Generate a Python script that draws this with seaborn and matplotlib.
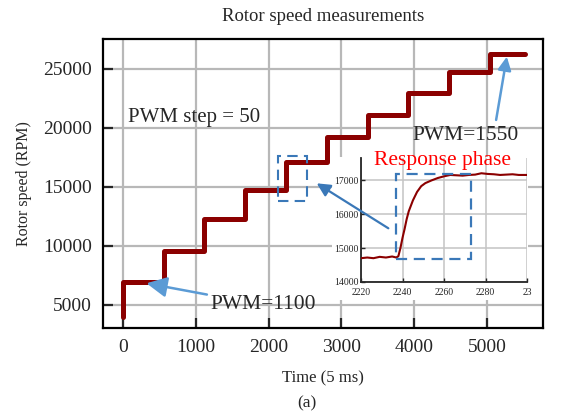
import matplotlib
matplotlib.use("Agg")
import matplotlib.pyplot as plt
from matplotlib.patches import Rectangle
import seaborn as sns
import pandas as pd

# step changes of the PWM command (time index, 5 ms per sample)
step_times = [0, 0, 560, 1118, 1677, 2237, 2796, 3360, 3915, 4475, 5040, 5520]
step_levels = [4000, 6920, 9600, 12250, 14780, 17150, 19270, 21100, 22940, 24760, 26280, 26280]

# zoomed view of the 5th step (response phase)
zoom_t = [2220, 2223, 2226, 2229, 2232, 2235, 2237, 2238, 2239, 2240, 2241, 2242, 2243,
          2245, 2247, 2249, 2251, 2254, 2257, 2260, 2263, 2266, 2269, 2272, 2275,
          2278, 2281, 2284, 2287, 2290, 2293, 2296, 2300]
zoom_rpm = [14700, 14720, 14700, 14740, 14720, 14750, 14720, 14760, 15000, 15300, 15560, 15850, 16080,
            16400, 16650, 16820, 16910, 16990, 17060, 17110, 17150, 17140, 17130, 17150, 17160,
            17200, 17180, 17170, 17150, 17160, 17170, 17150, 17150]

main_df = pd.DataFrame({"t": step_times, "rpm": step_levels})
zoom_df = pd.DataFrame({"t": zoom_t, "rpm": zoom_rpm})

sns.set_style("ticks")
plt.rcParams["font.family"] = ["Liberation Serif", "DejaVu Serif"]

red = "#8b0000"
blue = "#3a78b8"
light_blue = "#5b9bd5"
grid_col = "#b8b8b8"

fig = plt.figure(figsize=(5.61, 4.18), dpi=100)
ax = fig.add_axes([0.1836, 0.2153, 0.7838, 0.6914])

sns.lineplot(data=main_df, x="t", y="rpm", ax=ax, color=red, linewidth=3.6,
             drawstyle="steps-post", estimator=None, sort=False, zorder=3)

ax.set_xlim(-270, 5760)
ax.set_ylim(3050, 27540)
ax.set_xticks([0, 1000, 2000, 3000, 4000, 5000])
ax.set_yticks([5000, 10000, 15000, 20000, 25000])
ax.grid(True, color=grid_col, linewidth=1.6)
ax.set_axisbelow(True)
for s in ax.spines.values():
    s.set_linewidth(1.6)
    s.set_color("black")
ax.tick_params(direction="in", length=7, width=1.6, labelsize=14, pad=8)
ax.set_xlabel("Time (5 ms)", fontsize=12, labelpad=10)
ax.set_ylabel("Rotor speed (RPM)", fontsize=11.5, labelpad=8)
ax.set_title("Rotor speed measurements", fontsize=13.5, pad=13)

ax.text(70, 20850, "PWM step = 50", fontsize=15, ha="left", va="center")
ax.annotate("PWM=1100", xy=(326, 6840), xytext=(1200, 5000), fontsize=15.5,
            ha="left", va="center",
            arrowprops=dict(arrowstyle="-|>,head_length=0.8,head_width=0.4",
                            color=light_blue, lw=1.8, shrinkA=0, shrinkB=0))
ax.annotate("", xy=(5268, 26040), xytext=(5121, 20680),
            arrowprops=dict(arrowstyle="-|>,head_length=0.8,head_width=0.4",
                            color=light_blue, lw=1.8, shrinkA=0, shrinkB=0))
ax.text(3980, 19400, "PWM=1550", fontsize=15.5, ha="left", va="center")

ax.add_patch(Rectangle((2134, 13810), 390, 3840, fill=False, edgecolor=blue,
                       linewidth=1.5, linestyle=(0, (5, 3)), zorder=4))

fig.text(307 / 561, 1 - 403 / 418, "(a)", fontsize=12.5, ha="center", va="center")

# white backing for the inset and its labels
fig.patches.append(Rectangle((0.5918, 0.2823), 0.3494, 0.3421, transform=fig.transFigure,
                             facecolor="white", edgecolor="none", zorder=1))

ax_in = fig.add_axes([0.6435, 0.3254, 0.296, 0.2967])
ax_in.set_zorder(2)
sns.lineplot(data=zoom_df, x="t", y="rpm", ax=ax_in, color=red, linewidth=1.5,
             estimator=None, sort=False, zorder=3)
ax_in.set_xlim(2220, 2300)
ax_in.set_ylim(14000, 17650)
ax_in.set_xticks([2220, 2240, 2260, 2280, 2300])
ax_in.set_xticklabels(["2220", "2240", "2260", "2280", "23"])
ax_in.set_yticks([14000, 15000, 16000, 17000])
ax_in.grid(True, color="#c4c4c4", linewidth=1.1)
ax_in.set_axisbelow(True)
ax_in.set_xlabel("")
ax_in.set_ylabel("")
ax_in.spines["top"].set_visible(False)
ax_in.spines["right"].set_visible(False)
ax_in.spines["left"].set_linewidth(1.3)
ax_in.spines["bottom"].set_linewidth(1.3)
ax_in.tick_params(direction="in", length=3, width=1, labelsize=7)
ax_in.tick_params(axis="x", pad=4)
ax_in.tick_params(axis="y", pad=2)

ax_in.add_patch(Rectangle((2237, 14680), 36, 2500, fill=False, edgecolor=blue,
                          linewidth=1.6, linestyle=(0, (5, 3)), zorder=4))
ax_in.text(0.49, 0.98, "Response phase", transform=ax_in.transAxes, color="red",
           fontsize=15.5, ha="center", va="center", clip_on=False)
ax_in.annotate("", xy=(2661, 15310), xycoords=ax.transData,
               xytext=(3643, 11500), textcoords=ax.transData,
               arrowprops=dict(arrowstyle="-|>,head_length=0.8,head_width=0.4",
                               color=blue, lw=1.6, shrinkA=0, shrinkB=0),
               annotation_clip=False)

fig.savefig("out.png", dpi=100)
